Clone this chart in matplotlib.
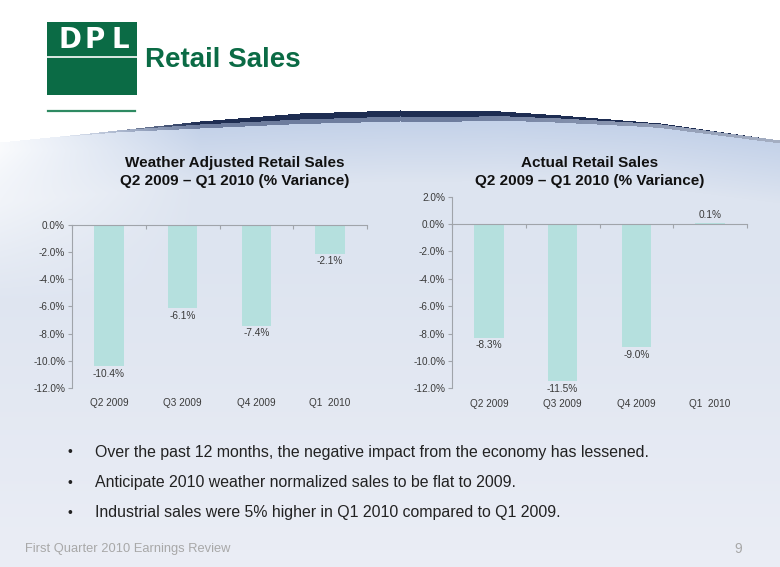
import numpy as np
import matplotlib
matplotlib.use('Agg')
import matplotlib.pyplot as plt
from matplotlib import font_manager as fm
from matplotlib.patches import Rectangle

# ---------------- data ----------------
categories = ['Q2 2009', 'Q3 2009', 'Q4 2009', 'Q1  2010']
weather_adjusted = [-10.4, -6.1, -7.4, -2.1]
actual = [-8.3, -11.5, -9.0, 0.1]
left_yticks = [0, -2, -4, -6, -8, -10, -12]
right_yticks = [2, 0, -2, -4, -6, -8, -10, -12]
left_title = 'Weather Adjusted Retail Sales\nQ2 2009 \u2013 Q1 2010 (% Variance)'
right_title = 'Actual Retail Sales\nQ2 2009 \u2013 Q1 2010 (% Variance)'
bullets = ['Over the past 12 months, the negative impact from the economy has lessened.',
           'Anticipate 2010 weather normalized sales to be flat to 2009.',
           'Industrial sales were 5% higher in Q1 2010 compared to Q1 2009.']
slide_title = 'Retail Sales'
logo_letters = ['D', 'P', 'L']
footer = 'First Quarter 2010 Earnings Review'
page = '9'

# ---------------- fonts ----------------
names = {f.name for f in fm.fontManager.ttflist}
MAIN = 'Liberation Sans' if 'Liberation Sans' in names else 'DejaVu Sans'
NARROW = 'Liberation Sans Narrow' if 'Liberation Sans Narrow' in names else MAIN
plt.rcParams['font.family'] = [MAIN, 'DejaVu Sans']

GREEN = '#0B6B45'
BAR = '#B5E0DE'
AXC = '#A0A4AA'
TXT = '#3A3A3A'

W, H = 780, 567
fig = plt.figure(figsize=(W / 100, H / 100), dpi=100)

# ---------------- background ----------------
bg = fig.add_axes([0, 0, 1, 1], zorder=-5)
yy, xx = np.mgrid[0:H, 0:W].astype(float)
cx = np.arange(W, dtype=float)
ytop = np.interp(cx, [0, 80, 200, 300, 400, 500, 560, 660, 780],
                 [142, 134, 121, 113, 110, 111, 115, 123, 140])
t1 = np.interp(cx, [0, 120, 200, 300, 450, 560, 640, 780], [0, 0, 3, 6, 6, 3, 1, 0])
t2 = np.interp(cx, [0, 80, 200, 400, 600, 780], [0, 1, 4, 5, 4, 3])
d = yy - ytop[None, :]
img = np.ones((H, W, 3))
near = np.array([196, 210, 233]) / 255
far = np.array([221, 228, 240]) / 255
bottom = np.array([234, 237, 245]) / 255
f1 = np.clip((d - t1[None, :] - t2[None, :]) / 60, 0, 1)[..., None]
base = near * (1 - f1) + far * f1
f2 = np.clip((yy - 250) / 300, 0, 1)[..., None]
base = base * (1 - f2) + bottom * f2
fl = (np.clip(1 - xx / 200, 0, 1) * (1 - np.clip((yy - 150) / 150, 0, 1)))[..., None] * 0.9
base = base * (1 - fl) + fl
below = (d >= 0)[..., None]
img = np.where(below, base, img)
navy = np.array([30, 45, 82]) / 255
mid_l = np.array([110, 125, 158]) / 255
mid_r = np.array([165, 175, 195]) / 255
fx = np.clip((xx - 450) / 330, 0, 1)[..., None]
mid = mid_l * (1 - fx) + mid_r * fx
# fade the swoosh in from the left
fade = np.clip((xx - 60) / 140, 0, 1)[..., None]
m1 = ((d >= 0) & (d < t1[None, :]))[..., None]
m2 = ((d >= t1[None, :]) & (d < t1[None, :] + t2[None, :]))[..., None]
img = np.where(m1, navy * fade + img * (1 - fade), img)
img = np.where(m2, mid * fade + img * (1 - fade), img)
bg.imshow(img, extent=(0, W, H, 0), interpolation='bilinear', aspect='auto')
bg.set_xlim(0, W)
bg.set_ylim(H, 0)
bg.axis('off')

# logo
bg.add_patch(Rectangle((47, 22), 90, 73, color=GREEN, lw=0))
bg.plot([47, 137], [57, 57], color='white', lw=1.2)
for k, ch in enumerate(logo_letters):
    bg.text(70 + 25 * k, 39.5, ch, color='white', fontsize=20, fontweight='bold',
            family='DejaVu Sans', ha='center', va='center')
bg.plot([48, 135], [110.5, 110.5], color='#2E8A62', lw=1.6)
bg.text(145, 67, slide_title, color=GREEN, fontsize=20, fontweight='bold',
        ha='left', va='baseline')

# chart titles
bg.text(235, 172, left_title, ha='center', va='center', fontsize=11, fontweight='bold',
        color='#111111', linespacing=1.3, multialignment='center')
bg.text(590, 172, right_title, ha='center', va='center', fontsize=11, fontweight='bold',
        color='#111111', linespacing=1.3, multialignment='center')

# bullets
for i, b in enumerate(bullets):
    yb = 452 + i * 30.5
    bg.text(68, yb, '\u2022', fontsize=10, color='#222222', ha='left', va='center')
    bg.text(95, yb, b, fontsize=11.4, color='#222222', ha='left', va='center', family=NARROW)

bg.text(25, 549, footer, fontsize=9.3, color='#A8A8A8', ha='left', va='center', family=NARROW)
bg.text(742, 549, page, fontsize=10, color='#A8A8A8', ha='right', va='center', family=NARROW)


# ---------------- charts ----------------
def draw(ax, values, yticks):
    x = np.arange(len(categories))
    ax.bar(x, values, width=0.4, color=BAR, zorder=2)
    ax.set_xlim(-0.5, len(categories) - 0.5)
    ax.set_ylim(min(yticks), max(yticks))
    ax.set_yticks(yticks)
    ax.set_yticklabels([f'{t:.1f}%' for t in yticks])
    ax.set_facecolor('none')
    for s in ('top', 'right'):
        ax.spines[s].set_visible(False)
    ax.spines['left'].set_color(AXC)
    ax.spines['left'].set_linewidth(0.8)
    ax.spines['bottom'].set_position(('data', 0))
    ax.spines['bottom'].set_color(AXC)
    ax.spines['bottom'].set_linewidth(0.8)
    ax.set_xticks(np.arange(-0.5, len(categories), 1.0))
    ax.set_xticklabels([])
    ax.tick_params(axis='x', length=3, color=AXC, direction='out', width=0.8)
    ax.tick_params(axis='y', length=3, color=AXC, direction='out', width=0.8,
                   labelsize=7.2, labelcolor=TXT, pad=2)
    for i, (c, v) in enumerate(zip(categories, values)):
        ax.annotate(c, xy=(i, 0), xycoords=('data', 'axes fraction'), xytext=(0, -11),
                    textcoords='offset points', ha='center', va='center',
                    fontsize=7.2, color=TXT)
        off = -2 if v < 0 else 2
        ax.annotate(f'{v:.1f}%', xy=(i, v), xytext=(0, off), textcoords='offset points',
                    ha='center', va='top' if v < 0 else 'bottom', fontsize=7.3, color=TXT)


axL = fig.add_axes([72 / W, 1 - 388 / H, 295 / W, 163 / H])
draw(axL, weather_adjusted, left_yticks)
axR = fig.add_axes([452 / W, 1 - 388.3 / H, 295 / W, 191.6 / H])
draw(axR, actual, right_yticks)

fig.savefig('out.png', dpi=100)
